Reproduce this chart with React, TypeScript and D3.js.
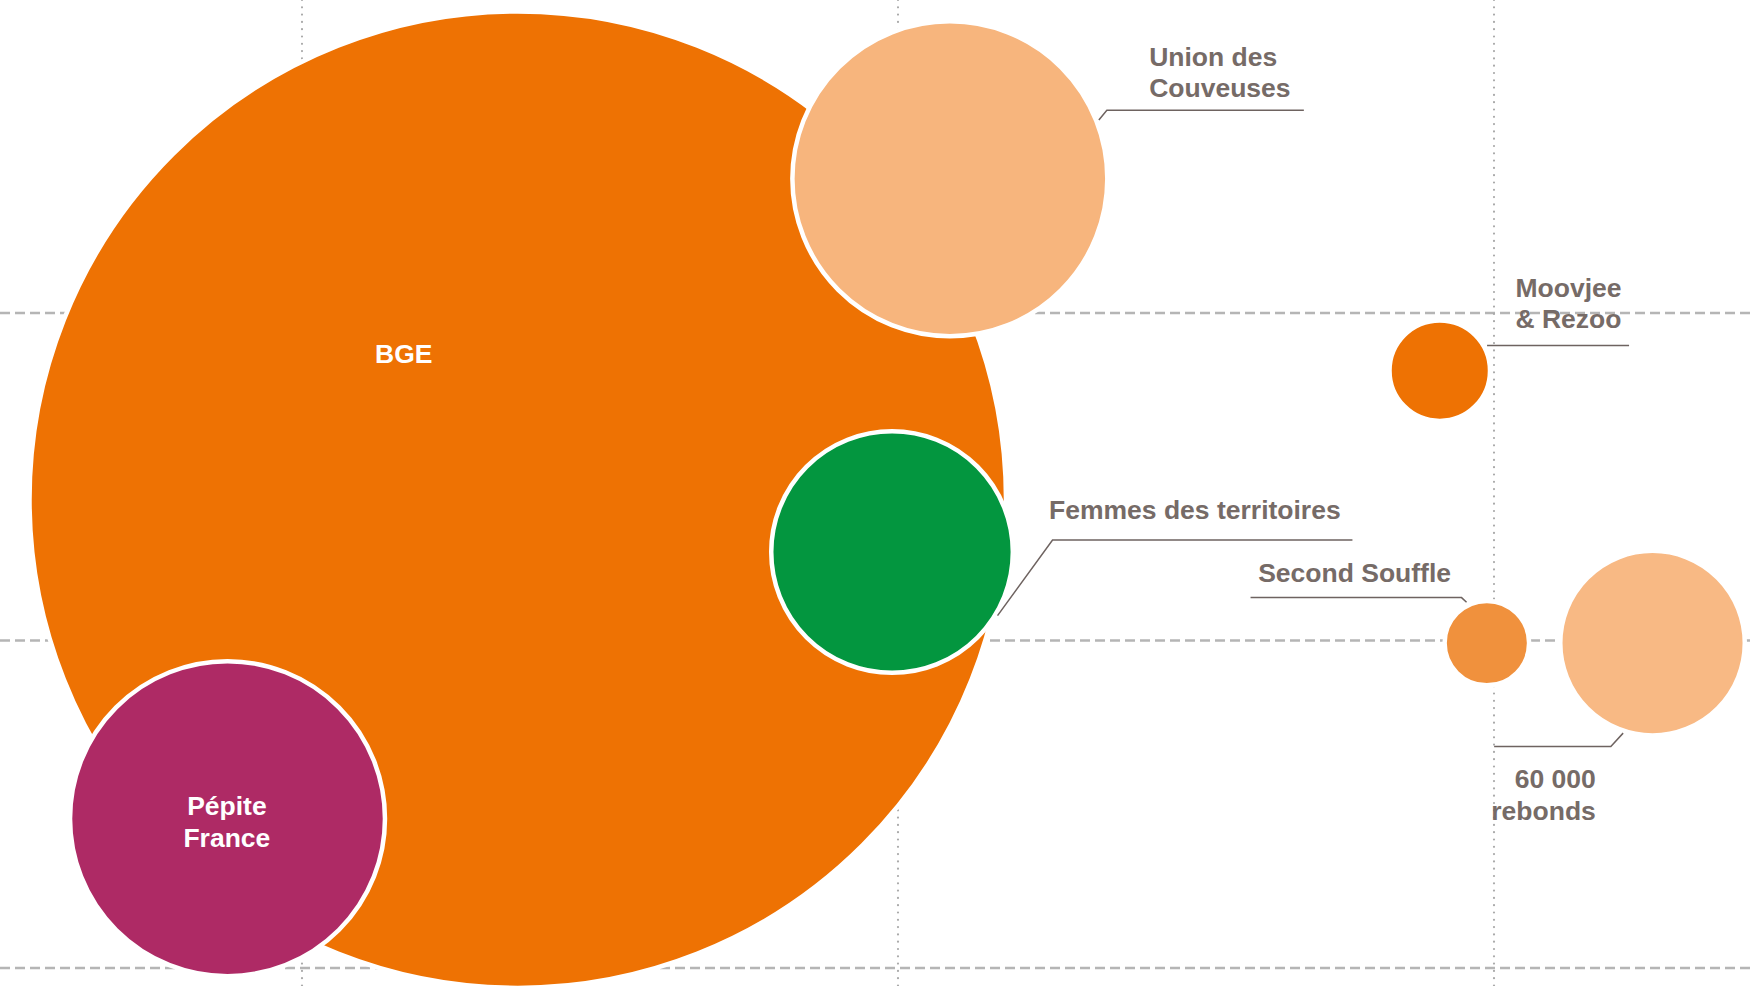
import * as d3 from 'd3'

// bubble data
const names = [
  'BGE',
  'Union des Couveuses',
  'Femmes des territoires',
  'Pépite France',
  'Moovjee & Rezoo',
  'Second Souffle',
  '60 000 rebonds',
]
const xValues = [1.362, 2.087, 1.99, 0.875, 2.909, 2.988, 3.266]
const yValues = [1.43, 2.41, 1.27, 0.456, 1.824, 0.992, 0.992]
const sizeValues = [100, 10.2, 5.95, 10.2, 0.975, 0.677, 3.43]
const xTicks = [1, 2, 3]
const yTicks = [0, 1, 2]

const colors = ['#ee7203', '#f7b57d', '#03963f', '#ae2a65', '#ee7203', '#f0913d', '#f8b984']

const W = 1752
const H = 986
const FONT = '"Liberation Sans", Arial, Helvetica, sans-serif'
const TEXT_GREY = '#766b67'
const LEADER = '#6e6360'

// label placement, offsets in px from the bubble centre
type Label = {
  lines: string[]
  tx: number
  ty: number
  anchor: 'start' | 'middle' | 'end'
  inside?: boolean
  leader?: [number, number][]
}
const labels: Record<string, Label> = {
  BGE: { lines: ['BGE'], tx: -114, ty: -136.3, anchor: 'middle', inside: true },
  'Pépite France': { lines: ['Pépite', 'France'], tx: -0.6, ty: -3.7, anchor: 'middle', inside: true },
  'Union des Couveuses': {
    lines: ['Union des', 'Couveuses'], tx: 199.3, ty: -113, anchor: 'start',
    leader: [[149, -58.7], [157, -68.4], [354, -68.4]],
  },
  'Moovjee & Rezoo': {
    lines: ['Moovjee', '& Rezoo'], tx: 75.7, ty: -73.8, anchor: 'start',
    leader: [[47.3, -25.2], [189.3, -25.2]],
  },
  'Femmes des territoires': {
    lines: ['Femmes des territoires'], tx: 157, ty: -33, anchor: 'start',
    leader: [[105.5, 63.6], [160.5, -12], [460.4, -12]],
  },
  'Second Souffle': {
    lines: ['Second Souffle'], tx: -228.7, ty: -60.8, anchor: 'start',
    leader: [[-236.3, -45.5], [-25.3, -45.5], [-20.3, -40.8]],
  },
  '60 000 rebonds': {
    lines: ['60 000', 'rebonds'], tx: -56.7, ty: 145, anchor: 'end',
    leader: [[-158.4, 103.3], [-41.7, 103.3], [-29.4, 90]],
  },
}

export default function App() {
  const x = d3.scaleLinear().domain([0, 3]).range([-294, 1494])
  const y = d3.scaleLinear().domain([0, 2]).range([968, 313])
  const r = d3.scaleSqrt().domain([0, 100]).range([0, 486])
  const line = d3.line<[number, number]>()

  const bubbles = names.map((name, i) => ({
    name,
    cx: x(xValues[i]),
    cy: y(yValues[i]),
    r: r(sizeValues[i]),
    color: colors[i],
  }))

  return (
    <>
      <style>{'body{margin:0}'}</style>
      <svg width={W} height={H} style={{ display: 'block', background: '#fff' }}>
        {/* grid */}
        <g>
          {yTicks.map((t) => (
            <line
              key={'y' + t}
              x1={0}
              x2={W}
              y1={y(t)}
              y2={y(t)}
              stroke="#b5b5b5"
              strokeWidth={2.5}
              strokeDasharray="10 5"
            />
          ))}
          {xTicks.map((t) => (
            <line
              key={'x' + t}
              x1={x(t)}
              x2={x(t)}
              y1={0}
              y2={H}
              stroke="#aaaaaa"
              strokeWidth={2.2}
              strokeLinecap="round"
              strokeDasharray="0 7.3"
            />
          ))}
        </g>

        {/* bubbles */}
        <g>
          {bubbles.map((b) => (
            <circle
              key={b.name}
              cx={b.cx}
              cy={b.cy}
              r={b.r + 2.25}
              fill={b.color}
              stroke="#fff"
              strokeWidth={4.5}
            />
          ))}
        </g>

        {/* leaders */}
        <g fill="none" stroke={LEADER} strokeWidth={1.5}>
          {bubbles.map((b) => {
            const lab = labels[b.name]
            if (!lab || !lab.leader) return null
            const pts = lab.leader.map(([dx, dy]) => [b.cx + dx, b.cy + dy] as [number, number])
            return <path key={b.name} d={line(pts) || ''} />
          })}
        </g>

        {/* labels */}
        <g fontFamily={FONT} fontWeight="bold" fontSize={26.5}>
          {bubbles.map((b) => {
            const lab = labels[b.name]
            if (!lab) return null
            return (
              <text
                key={b.name}
                x={b.cx + lab.tx}
                y={b.cy + lab.ty}
                textAnchor={lab.anchor}
                fill={lab.inside ? '#fff' : TEXT_GREY}
              >
                {lab.lines.map((l, i) => (
                  <tspan key={i} x={b.cx + lab.tx} dy={i === 0 ? 0 : 31.6}>
                    {l}
                  </tspan>
                ))}
              </text>
            )
          })}
        </g>
      </svg>
    </>
  )
}
